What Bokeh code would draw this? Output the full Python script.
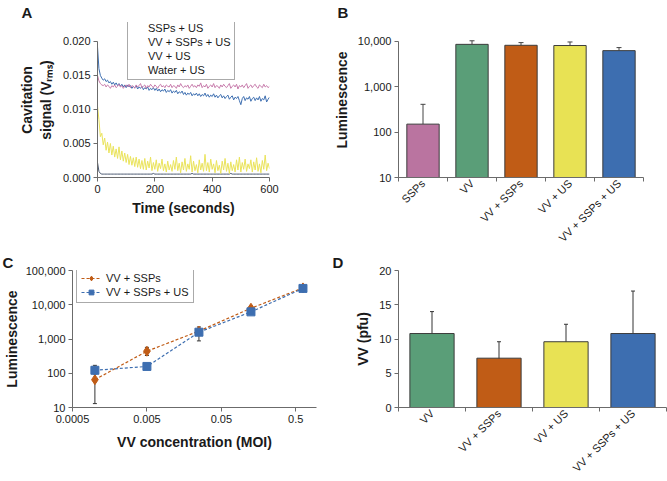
import math
from bokeh.plotting import figure
from bokeh.layouts import row, column
from bokeh.models import (Range1d, FixedTicker, NumeralTickFormatter, PrintfTickFormatter,
                          Legend, LegendItem, Whisker, ColumnDataSource, TeeHead)
from bokeh.embed import file_html
from bokeh.resources import INLINE

# ---------------- data ----------------
# Panel A: cavitation signal (V rms) every 5 s
time_s = list(range(0, 605, 5))
ssps_us = [0.0150, 0.0142, 0.0138, 0.0136, 0.0135, 0.0137, 0.0133, 0.0136, 0.0134, 0.0131,
           0.0135, 0.0133, 0.0136, 0.0132, 0.0134, 0.0137, 0.0133, 0.0135, 0.0131, 0.0134,
           0.0136, 0.0133, 0.0137, 0.0132, 0.0135, 0.0134, 0.0131, 0.0136, 0.0133, 0.0135,
           0.0138, 0.0132, 0.0134, 0.0136, 0.0131, 0.0135, 0.0133, 0.0137, 0.0134, 0.0132,
           0.0136, 0.0134, 0.0131, 0.0135, 0.0137, 0.0133, 0.0135, 0.0132, 0.0136, 0.0134,
           0.0133, 0.0137, 0.0132, 0.0135, 0.0134, 0.0131, 0.0136, 0.0133, 0.0138, 0.0134,
           0.0132, 0.0135, 0.0133, 0.0136, 0.0131, 0.0134, 0.0137, 0.0133, 0.0135, 0.0132,
           0.0136, 0.0134, 0.0139, 0.0132, 0.0135, 0.0133, 0.0137, 0.0131, 0.0134, 0.0136,
           0.0133, 0.0138, 0.0132, 0.0135, 0.0134, 0.0131, 0.0136, 0.0133, 0.0137, 0.0134,
           0.0132, 0.0135, 0.0138, 0.0131, 0.0134, 0.0136, 0.0133, 0.0137, 0.0130, 0.0135,
           0.0133, 0.0136, 0.0132, 0.0135, 0.0138, 0.0131, 0.0134, 0.0136, 0.0132, 0.0135,
           0.0137, 0.0133, 0.0131, 0.0136, 0.0134, 0.0132, 0.0137, 0.0133, 0.0135, 0.0132,
           0.0134]
vv_ssps_us = [0.0192, 0.0160, 0.0150, 0.0146, 0.0143, 0.0145, 0.0141, 0.0143, 0.0139, 0.0141,
              0.0137, 0.0140, 0.0136, 0.0139, 0.0135, 0.0138, 0.0134, 0.0137, 0.0133, 0.0136,
              0.0132, 0.0136, 0.0133, 0.0135, 0.0131, 0.0134, 0.0132, 0.0135, 0.0130, 0.0133,
              0.0131, 0.0134, 0.0129, 0.0132, 0.0130, 0.0133, 0.0128, 0.0131, 0.0129, 0.0132,
              0.0128, 0.0131, 0.0127, 0.0130, 0.0126, 0.0129, 0.0127, 0.0130, 0.0125, 0.0128,
              0.0126, 0.0129, 0.0124, 0.0127, 0.0125, 0.0128, 0.0123, 0.0126, 0.0124, 0.0127,
              0.0122, 0.0125, 0.0121, 0.0124, 0.0122, 0.0125, 0.0120, 0.0123, 0.0121, 0.0124,
              0.0120, 0.0123, 0.0119, 0.0122, 0.0120, 0.0124, 0.0119, 0.0122, 0.0118, 0.0121,
              0.0119, 0.0123, 0.0118, 0.0121, 0.0117, 0.0120, 0.0122, 0.0117, 0.0120, 0.0116,
              0.0119, 0.0121, 0.0115, 0.0118, 0.0120, 0.0114, 0.0118, 0.0116, 0.0119, 0.0113,
              0.0107, 0.0116, 0.0119, 0.0113, 0.0117, 0.0115, 0.0119, 0.0112, 0.0116, 0.0118,
              0.0113, 0.0117, 0.0114, 0.0119, 0.0112, 0.0116, 0.0114, 0.0120, 0.0111, 0.0115,
              0.0118]
vv_us = [0.0105, 0.0085, 0.0060, 0.0065, 0.0048, 0.0058, 0.0040, 0.0052, 0.0036, 0.0050,
         0.0033, 0.0046, 0.0030, 0.0042, 0.0028, 0.0045, 0.0026, 0.0039, 0.0024, 0.0036,
         0.0022, 0.0034, 0.0019, 0.0031, 0.0018, 0.0029, 0.0016, 0.0030, 0.0015, 0.0027,
         0.0013, 0.0025, 0.0012, 0.0028, 0.0011, 0.0024, 0.0014, 0.0030, 0.0010, 0.0022,
         0.0012, 0.0026, 0.0009, 0.0021, 0.0013, 0.0027, 0.0010, 0.0020, 0.0008, 0.0024,
         0.0011, 0.0019, 0.0009, 0.0025, 0.0012, 0.0030, 0.0010, 0.0021, 0.0007, 0.0023,
         0.0011, 0.0028, 0.0009, 0.0020, 0.0012, 0.0032, 0.0008, 0.0024, 0.0010, 0.0019,
         0.0007, 0.0026, 0.0011, 0.0021, 0.0009, 0.0034, 0.0010, 0.0022, 0.0008, 0.0027,
         0.0012, 0.0020, 0.0007, 0.0025, 0.0010, 0.0018, 0.0006, 0.0024, 0.0011, 0.0028,
         0.0009, 0.0021, 0.0006, 0.0023, 0.0010, 0.0019, 0.0008, 0.0026, 0.0011, 0.0030,
         0.0008, 0.0022, 0.0012, 0.0027, 0.0009, 0.0020, 0.0013, 0.0026, 0.0008, 0.0023,
         0.0011, 0.0029, 0.0009, 0.0020, 0.0007, 0.0025, 0.0012, 0.0033, 0.0010, 0.0021,
         0.0013]
water_us = [0.0022, 0.0009, 0.0006, 0.0005, 0.0005, 0.0005, 0.0005, 0.0005, 0.0005, 0.0005,
            0.0005, 0.0005, 0.0005, 0.0005, 0.0005, 0.0005, 0.0005, 0.0005, 0.0005, 0.0005,
            0.0005, 0.0005, 0.0005, 0.0005, 0.0005, 0.0005, 0.0005, 0.0005, 0.0005, 0.0005,
            0.0005, 0.0005, 0.0005, 0.0005, 0.0005, 0.0005, 0.0005, 0.0005, 0.0005, 0.0006,
            0.0005, 0.0005, 0.0005, 0.0005, 0.0005, 0.0005, 0.0005, 0.0005, 0.0005, 0.0005,
            0.0005, 0.0005, 0.0005, 0.0005, 0.0005, 0.0005, 0.0005, 0.0005, 0.0005, 0.0005,
            0.0005, 0.0005, 0.0005, 0.0005, 0.0005, 0.0005, 0.0006, 0.0005, 0.0005, 0.0005,
            0.0005, 0.0005, 0.0005, 0.0005, 0.0005, 0.0005, 0.0005, 0.0005, 0.0005, 0.0005,
            0.0005, 0.0005, 0.0005, 0.0005, 0.0005, 0.0005, 0.0005, 0.0005, 0.0005, 0.0005,
            0.0005, 0.0005, 0.0005, 0.0006, 0.0005, 0.0005, 0.0005, 0.0005, 0.0005, 0.0005,
            0.0005, 0.0005, 0.0005, 0.0005, 0.0005, 0.0005, 0.0005, 0.0005, 0.0005, 0.0005,
            0.0005, 0.0005, 0.0005, 0.0005, 0.0005, 0.0005, 0.0005, 0.0005, 0.0005, 0.0005,
            0.0005]
a_series = ["SSPs + US", "VV + SSPs + US", "VV + US", "Water + US"]
a_xticks = [0, 200, 400, 600]
a_yticks = [0.0, 0.005, 0.010, 0.015, 0.020]

# Panel B: luminescence per treatment
b_groups = ["SSPs", "VV", "VV + SSPs", "VV + US", "VV + SSPs + US"]
b_lum = [150, 8600, 8200, 8100, 6250]
b_lum_upper = [410, 10300, 9400, 9700, 7300]
b_yticks = [10, 100, 1000, 10000]

# Panel C: luminescence vs MOI
c_moi = [0.001, 0.005, 0.025, 0.125, 0.625]
c_vv_ssps = [65, 440, 1700, 7900, 31000]
c_vv_ssps_lo = [13, 330, 1450, 7300, 31000]
c_vv_ssps_hi = [120, 570, 2000, 8700, 31000]
c_vv_ssps_us = [122, 158, 1580, 6200, 30000]
c_vv_ssps_us_lo = [95, 145, 880, 5800, 30000]
c_vv_ssps_us_hi = [170, 172, 2250, 6700, 30000]
c_xticks = [0.0005, 0.005, 0.05, 0.5]
c_yticks = [10, 100, 1000, 10000, 100000]

# Panel D: VV plaque counts
d_groups = ["VV", "VV + SSPs", "VV + US", "VV + SSPs + US"]
d_pfu = [10.8, 7.2, 9.6, 10.8]
d_pfu_lo = [7.55, 4.8, 7.1, 4.6]
d_pfu_hi = [14.0, 9.6, 12.15, 17.0]
d_yticks = [0, 5, 10, 15, 20]

# ---------------- style ----------------
FONT = "Liberation Sans"
AXIS = "#6b6b6b"
TXT = "#1a1a1a"
EDGE = "#3c3c3c"
COL = {"SSPs": "#BA74A0", "VV": "#5A9E78", "VV + SSPs": "#C05C16",
       "VV + US": "#E8E254", "VV + SSPs + US": "#3D6EB0"}
LINE_A = ["#C77BAB", "#3D6EB0", "#EAE35C", "#4A5870"]


def style(p):
    p.outline_line_color = None
    p.xgrid.grid_line_color = None
    p.ygrid.grid_line_color = None
    p.background_fill_color = "white"
    p.border_fill_color = "white"
    for ax in p.axis:
        ax.axis_line_color = AXIS
        ax.major_tick_line_color = AXIS
        ax.minor_tick_line_color = None
        ax.major_tick_in = 0
        ax.major_tick_out = 4
        ax.major_label_text_font = FONT
        ax.major_label_text_font_size = "11px"
        ax.major_label_text_color = TXT
        ax.major_label_standoff = 3
        ax.axis_label_text_font = FONT
        ax.axis_label_text_font_size = "14px"
        ax.axis_label_text_font_style = "bold"
        ax.axis_label_text_color = TXT


def letter(p, txt, offset, valign):
    t = p.title
    t.text = txt
    t.align = "left"
    t.vertical_align = valign
    t.offset = offset
    t.standoff = 0
    t.text_font = FONT
    t.text_font_size = "15px"
    t.text_font_style = "bold"
    t.text_color = TXT


def cat_axis(p, groups):
    centers = [i + 0.5 for i in range(len(groups))]
    bounds = list(range(len(groups) + 1))
    p.xaxis.ticker = FixedTicker(ticks=centers, minor_ticks=bounds)
    p.xaxis.major_label_overrides = {c: g for c, g in zip(centers, groups)}
    p.xaxis.major_tick_line_color = None
    p.xaxis.major_tick_out = 0
    p.xaxis.major_label_standoff = 0
    p.xaxis.minor_tick_line_color = AXIS
    p.xaxis.minor_tick_in = 0
    p.xaxis.minor_tick_out = 4
    p.xaxis.major_label_orientation = math.pi / 4
    return centers


TOP1 = 22          # top border of the first row (frame starts here; axes start lower)
HEAD = 41 - TOP1   # pixels between frame top and the top tick
BOT = 73           # bottom border (room for the rotated category labels)
H1 = 178 + BOT     # first row height -> frame bottom at y=178
H2 = 481 - H1

# ---------------- Panel A ----------------
a_top = 0.02 + HEAD / 137 * 0.02
pa = figure(width=330, height=H1, x_range=Range1d(0, 600), y_range=Range1d(0, a_top),
            output_backend="svg", toolbar_location=None,
            min_border_left=97, min_border_right=61, min_border_top=TOP1, min_border_bottom=BOT)
series_a = [ssps_us, vv_ssps_us, vv_us, water_us]
for idx in [3, 2, 1, 0]:
    pa.line(time_s, series_a[idx], line_color=LINE_A[idx], line_width=1)
leg_r = [pa.line([], [], line_color=c, line_width=3) for c in LINE_A]
style(pa)
pa.xaxis.ticker = FixedTicker(ticks=a_xticks)
pa.yaxis.ticker = FixedTicker(ticks=a_yticks)
pa.yaxis.bounds = (0, 0.02)
pa.yaxis.formatter = PrintfTickFormatter(format="%.3f")
pa.xaxis.axis_label = "Time (seconds)"
pa.xaxis.axis_label_standoff = 4
pa.yaxis.axis_label = "Cavitation\nsignal (V\u1d63\u2098\u209b)"
pa.yaxis.axis_label_standoff = 6
leg_a = Legend(items=[LegendItem(label=s, renderers=[r]) for s, r in zip(a_series, leg_r)],
               location=(30, 97), label_text_font=FONT, label_text_font_size="11px",
               label_text_color=TXT, border_line_color="#555555", border_line_width=1,
               padding=3, spacing=2, margin=0, glyph_width=12, glyph_height=12,
               label_height=12, label_standoff=5, background_fill_alpha=1)
pa.add_layout(leg_a)
letter(pa, "A", -76, "top")

# ---------------- Panel B ----------------
b_top = 10 ** (4 + HEAD / (137 / 3))
pb = figure(width=337, height=H1, x_range=Range1d(0, len(b_groups)), y_range=Range1d(10, b_top),
            y_axis_type="log", output_backend="svg", toolbar_location=None,
            min_border_left=67, min_border_right=24, min_border_top=TOP1, min_border_bottom=BOT)
style(pb)
xb = cat_axis(pb, b_groups)
pb.vbar(x=xb, top=b_lum, bottom=10, width=0.66, fill_color=[COL[g] for g in b_groups],
        line_color=EDGE, line_width=1)
srcb = ColumnDataSource(dict(x=xb, lo=b_lum, hi=b_lum_upper))
pb.add_layout(Whisker(base="x", lower="lo", upper="hi", source=srcb, line_color="#444444",
                      line_width=1, lower_head=None,
                      upper_head=TeeHead(size=5, line_color="#444444", line_width=1)))
pb.yaxis.ticker = FixedTicker(ticks=b_yticks)
pb.yaxis.bounds = (10, 10000)
pb.yaxis.formatter = NumeralTickFormatter(format="0,0")
pb.yaxis.axis_label = "Luminescence"
pb.yaxis.axis_label_standoff = 5
letter(pb, "B", -61, "top")

# ---------------- Panel C ----------------
pc = figure(width=330, height=H2, x_axis_type="log", y_axis_type="log",
            x_range=Range1d(0.0005, 0.95), y_range=Range1d(10, 100000),
            output_backend="svg", toolbar_location=None,
            min_border_left=68, min_border_right=14, min_border_top=17, min_border_bottom=BOT)
style(pc)
o_col, b_col = COL["VV + SSPs"], COL["VV + SSPs + US"]
srco = ColumnDataSource(dict(x=c_moi, lo=c_vv_ssps_lo, hi=c_vv_ssps_hi))
srcu = ColumnDataSource(dict(x=c_moi, lo=c_vv_ssps_us_lo, hi=c_vv_ssps_us_hi))
for s in (srco, srcu):
    pc.add_layout(Whisker(base="x", lower="lo", upper="hi", source=s, line_color="#333333",
                          line_width=1, level="underlay",
                          upper_head=TeeHead(size=4, line_color="#333333", line_width=1),
                          lower_head=TeeHead(size=4, line_color="#333333", line_width=1)))
lo1 = pc.line(c_moi, c_vv_ssps, line_color=o_col, line_width=1.2, line_dash="3 2")
so1 = pc.scatter(c_moi, c_vv_ssps, marker="diamond", size=10, fill_color=o_col, line_color=o_col)
lo2 = pc.line(c_moi, c_vv_ssps_us, line_color=b_col, line_width=1.2, line_dash="3 2")
so2 = pc.scatter(c_moi, c_vv_ssps_us, marker="square", size=8, fill_color=b_col, line_color=b_col)
pc.xaxis.ticker = FixedTicker(ticks=c_xticks)
pc.xaxis.formatter = NumeralTickFormatter(format="0.[0000]")
pc.yaxis.ticker = FixedTicker(ticks=c_yticks)
pc.yaxis.formatter = NumeralTickFormatter(format="0,0")
pc.xaxis.axis_label = "VV concentration (MOI)"
pc.yaxis.axis_label = "Luminescence"
pc.xaxis.axis_label_standoff = 8
pc.yaxis.axis_label_standoff = 3
leg_c = Legend(items=[LegendItem(label="VV + SSPs", renderers=[lo1, so1]),
                      LegendItem(label="VV + SSPs + US", renderers=[lo2, so2])],
               location=(4, 104), label_text_font=FONT, label_text_font_size="11px",
               label_text_color=TXT, border_line_color="#555555", border_line_width=1,
               padding=4, spacing=2, margin=0, glyph_width=20, glyph_height=12,
               label_height=12, label_standoff=5, background_fill_alpha=1)
pc.add_layout(leg_c)
letter(pc, "C", -70, "bottom")

# ---------------- Panel D ----------------
pd = figure(width=337, height=H2, x_range=Range1d(0, len(d_groups)), y_range=Range1d(0, 20),
            output_backend="svg", toolbar_location=None,
            min_border_left=68, min_border_right=1, min_border_top=17, min_border_bottom=BOT)
style(pd)
xd = cat_axis(pd, d_groups)
pd.vbar(x=xd, top=d_pfu, bottom=0, width=0.66, fill_color=[COL[g] for g in d_groups],
        line_color=EDGE, line_width=1)
srcd = ColumnDataSource(dict(x=xd, lo=d_pfu_lo, hi=d_pfu_hi))
pd.add_layout(Whisker(base="x", lower="lo", upper="hi", source=srcd, line_color="#333333",
                      line_width=1,
                      upper_head=TeeHead(size=4, line_color="#333333", line_width=1),
                      lower_head=TeeHead(size=4, line_color="#333333", line_width=1)))
pd.yaxis.ticker = FixedTicker(ticks=d_yticks)
pd.yaxis.axis_label = "VV (pfu)"
pd.yaxis.axis_label_standoff = 5
letter(pd, "D", -66, "bottom")

layout = column(row(pa, pb), row(pc, pd))
open("out.html", "w").write(file_html(layout, INLINE))
